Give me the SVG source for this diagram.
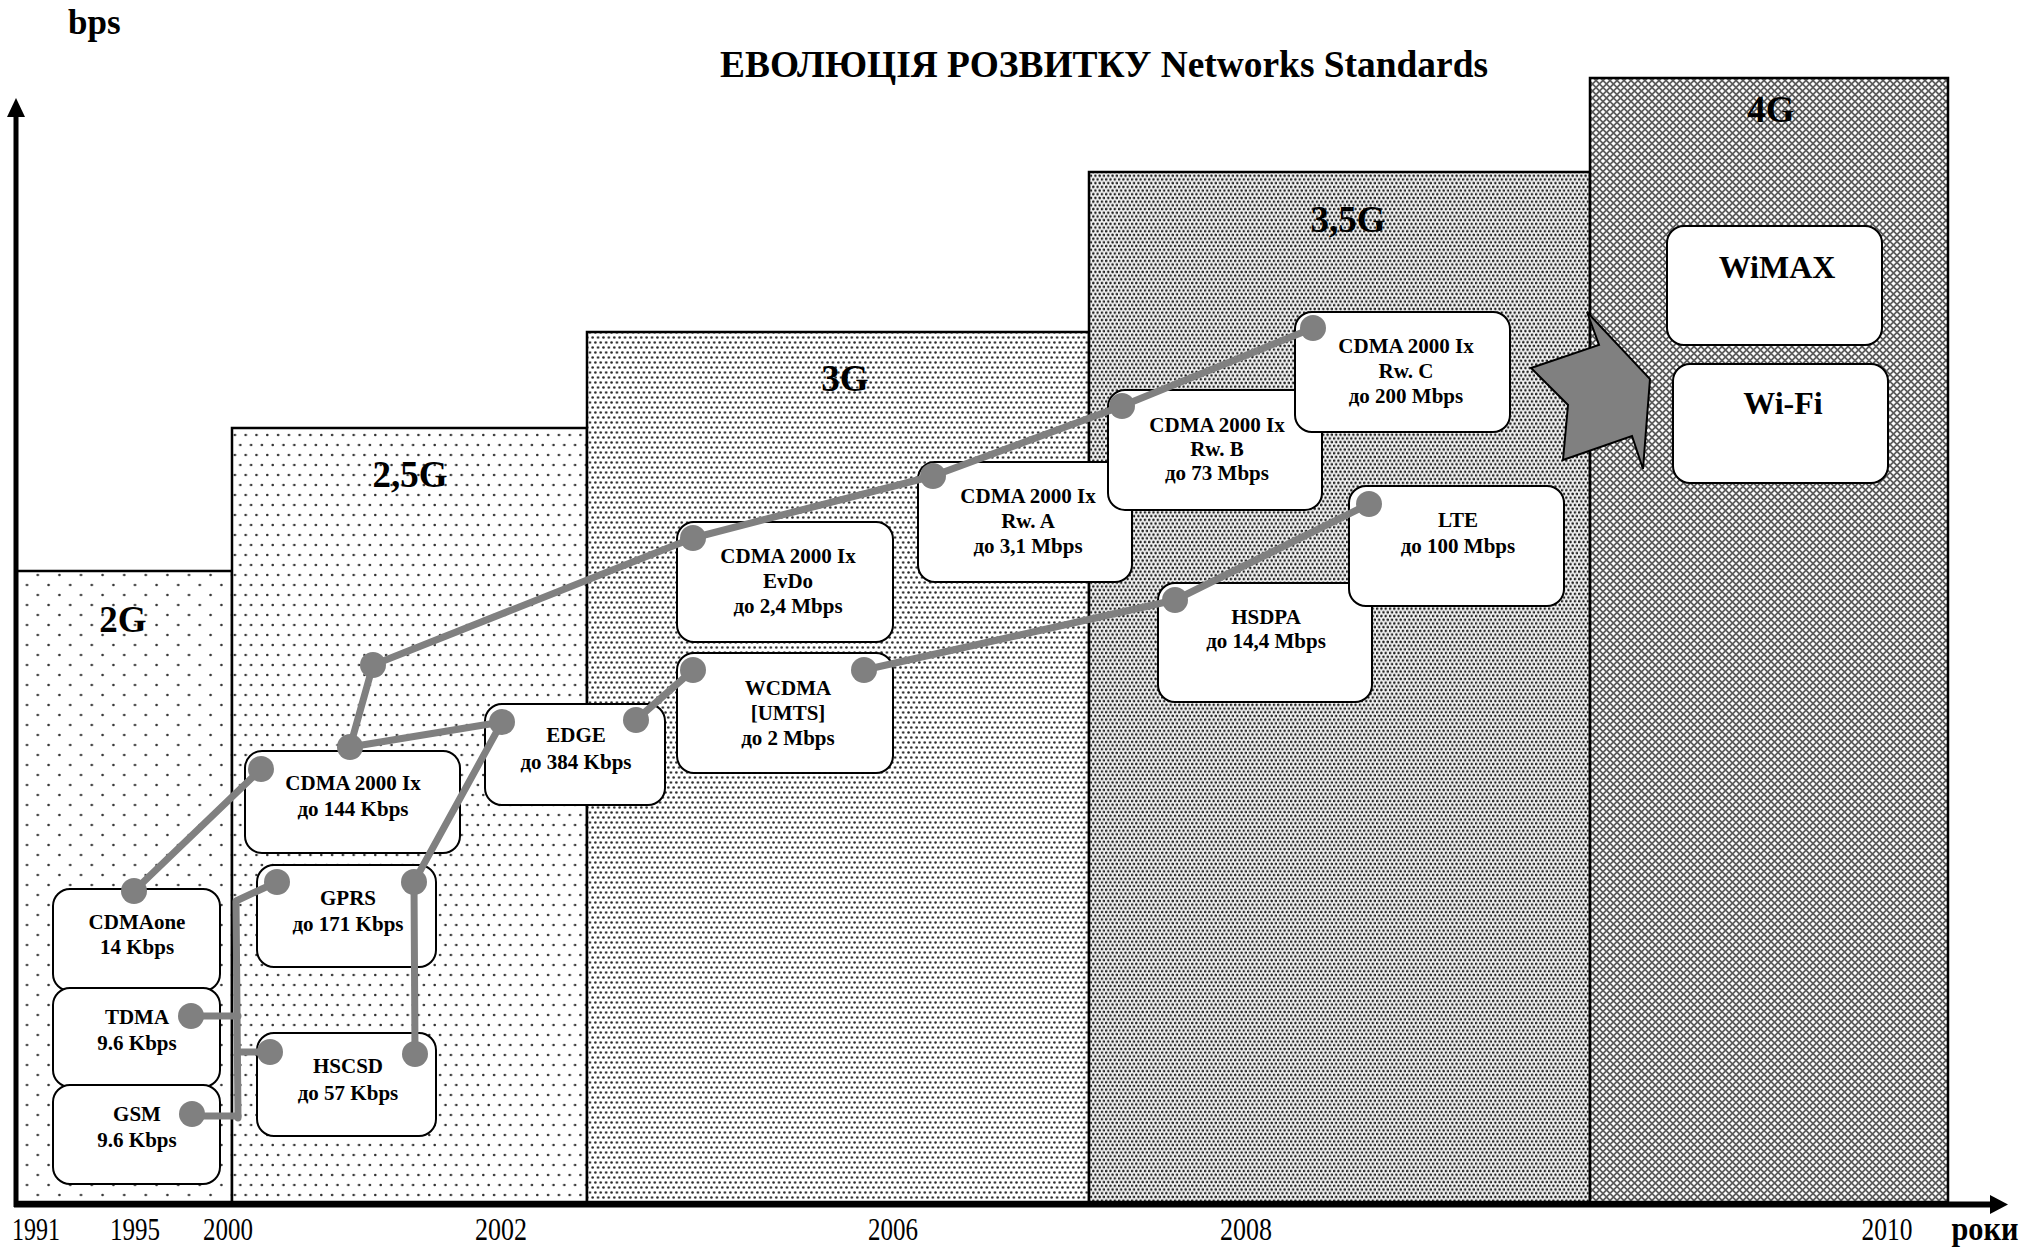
<svg xmlns="http://www.w3.org/2000/svg" width="2044" height="1247" viewBox="0 0 2044 1247">
<defs>
<style>
.t{font-family:"Liberation Serif","Times New Roman",serif;font-weight:bold;fill:#000}
.n{font-size:21px;text-anchor:middle}
.big{font-size:32px;text-anchor:middle}
.z{font-size:37px;text-anchor:middle}
.yr{font-family:"Liberation Serif","Times New Roman",serif;font-size:31px;fill:#000;text-anchor:middle}
.box{fill:#fff;stroke:#000;stroke-width:2}
.zone{stroke:#000;stroke-width:2.5}
.c{stroke:#808080;stroke-width:7;fill:none;stroke-linecap:round;stroke-linejoin:round}
.d{fill:#808080}
</style>
<pattern id="p2g" width="21.6" height="20" patternUnits="userSpaceOnUse">
<rect width="21.6" height="20" fill="#fff"/>
<circle cx="5.4" cy="5" r="1.3" fill="#333"/>
<circle cx="16.2" cy="15" r="1.3" fill="#333"/>
</pattern>
<pattern id="p25g" width="10.8" height="20" patternUnits="userSpaceOnUse">
<rect width="10.8" height="20" fill="#fff"/>
<circle cx="2.7" cy="5" r="1.3" fill="#333"/>
<circle cx="8.1" cy="15" r="1.3" fill="#333"/>
</pattern>
<pattern id="p3g" width="5.4" height="10" patternUnits="userSpaceOnUse">
<rect width="5.4" height="10" fill="#fff"/>
<circle cx="1.35" cy="2.5" r="1.3" fill="#2a2a2a"/>
<circle cx="4.05" cy="7.5" r="1.3" fill="#2a2a2a"/>
</pattern>
<pattern id="p35g" width="4.3" height="7.4" patternUnits="userSpaceOnUse">
<rect width="4.3" height="7.4" fill="#f4f4f4"/>
<circle cx="1.07" cy="1.85" r="1.3" fill="#222"/>
<circle cx="3.22" cy="5.55" r="1.3" fill="#222"/>
</pattern>
<pattern id="p4g" width="7" height="7" patternUnits="userSpaceOnUse">
<rect width="7" height="7" fill="#5a5a5a"/>
<polygon points="3.5,1.2 5.8,3.5 3.5,5.8 1.2,3.5" fill="#fff"/>
<polygon points="0,-2.3 2.3,0 0,2.3 -2.3,0" fill="#fff"/>
<polygon points="7,-2.3 9.3,0 7,2.3 4.7,0" fill="#fff"/>
<polygon points="0,4.7 2.3,7 0,9.3 -2.3,7" fill="#fff"/>
<polygon points="7,4.7 9.3,7 7,9.3 4.7,7" fill="#fff"/>
</pattern>
</defs>
<rect width="2044" height="1247" fill="#fff"/>

<g id="zone-2g"><rect class="zone" x="16" y="571" width="216" height="631" fill="url(#p2g)"/><text class="t z" x="123" y="632">2G</text></g>
<g id="zone-25g"><rect class="zone" x="232" y="428" width="355" height="774" fill="url(#p25g)"/><text class="t z" x="410" y="487">2,5G</text></g>
<g id="zone-3g"><rect class="zone" x="587" y="332" width="502" height="870" fill="url(#p3g)"/><text class="t z" x="845" y="391">3G</text></g>
<g id="zone-35g"><rect class="zone" x="1089" y="172" width="501" height="1030" fill="url(#p35g)" stroke-width="2"/><text class="t z" x="1348" y="232">3,5G</text></g>
<g id="zone-4g"><rect class="zone" x="1590" y="78" width="358" height="1124" fill="url(#p4g)" stroke-width="2"/><text class="t z" x="1771" y="122">4G</text></g>

<g id="axes">
<line x1="16" y1="1207" x2="16" y2="114" stroke="#000" stroke-width="5"/>
<polygon points="16,98 7,117 25,117" fill="#000"/>
<line x1="14" y1="1204.5" x2="1992" y2="1204.5" stroke="#000" stroke-width="6"/>
<polygon points="2008,1204.5 1990,1195 1990,1214" fill="#000"/>
</g>

<text class="t" x="68" y="34" font-size="35">bps</text>
<text class="t" x="1104" y="77" font-size="38" text-anchor="middle" textLength="768" lengthAdjust="spacingAndGlyphs">ЕВОЛЮЦІЯ РОЗВИТКУ Networks Standards</text>

<g id="years">
<text class="yr" x="36" y="1240" textLength="48" lengthAdjust="spacingAndGlyphs">1991</text>
<text class="yr" x="135" y="1240" textLength="50" lengthAdjust="spacingAndGlyphs">1995</text>
<text class="yr" x="228" y="1240" textLength="50" lengthAdjust="spacingAndGlyphs">2000</text>
<text class="yr" x="501" y="1240" textLength="52" lengthAdjust="spacingAndGlyphs">2002</text>
<text class="yr" x="893" y="1240" textLength="50" lengthAdjust="spacingAndGlyphs">2006</text>
<text class="yr" x="1246" y="1240" textLength="52" lengthAdjust="spacingAndGlyphs">2008</text>
<text class="yr" x="1887" y="1240" textLength="51" lengthAdjust="spacingAndGlyphs">2010</text>
<text class="t" x="1985" y="1240" font-size="34" text-anchor="middle" textLength="67" lengthAdjust="spacingAndGlyphs">роки</text>
</g>

<g id="n-cdmaone"><rect class="box" x="53" y="889" width="167" height="102" rx="17"/><text class="t n" x="137" y="929">CDMAone</text><text class="t n" x="137" y="954">14 Kbps</text></g>
<g id="n-tdma"><rect class="box" x="53" y="988" width="167" height="99" rx="17"/><text class="t n" x="137" y="1024">TDMA</text><text class="t n" x="137" y="1050">9.6 Kbps</text></g>
<g id="n-gsm"><rect class="box" x="53" y="1085" width="167" height="99" rx="17"/><text class="t n" x="137" y="1121">GSM</text><text class="t n" x="137" y="1147">9.6 Kbps</text></g>
<g id="n-cdma144"><rect class="box" x="245" y="751" width="215" height="102" rx="17"/><text class="t n" x="353" y="790">CDMA 2000 Ix</text><text class="t n" x="353" y="816">до 144 Kbps</text></g>
<g id="n-gprs"><rect class="box" x="257" y="865" width="179" height="102" rx="17"/><text class="t n" x="348" y="905">GPRS</text><text class="t n" x="348" y="931">до 171 Kbps</text></g>
<g id="n-hscsd"><rect class="box" x="257" y="1033" width="179" height="103" rx="17"/><text class="t n" x="348" y="1073">HSCSD</text><text class="t n" x="348" y="1100">до 57 Kbps</text></g>
<g id="n-edge"><rect class="box" x="485" y="704" width="180" height="101" rx="17"/><text class="t n" x="576" y="742">EDGE</text><text class="t n" x="576" y="769">до 384 Kbps</text></g>
<g id="n-evdo"><rect class="box" x="677" y="522" width="216" height="120" rx="17"/><text class="t n" x="788" y="563">CDMA 2000 Ix</text><text class="t n" x="788" y="588">EvDo</text><text class="t n" x="788" y="613">до 2,4 Mbps</text></g>
<g id="n-wcdma"><rect class="box" x="677" y="653" width="216" height="120" rx="17"/><text class="t n" x="788" y="695">WCDMA</text><text class="t n" x="788" y="720">[UMTS]</text><text class="t n" x="788" y="745">до 2 Mbps</text></g>
<g id="n-rwa"><rect class="box" x="918" y="462" width="214" height="120" rx="17"/><text class="t n" x="1028" y="503">CDMA 2000 Ix</text><text class="t n" x="1028" y="528">Rw. A</text><text class="t n" x="1028" y="553">до 3,1 Mbps</text></g>
<g id="n-rwb"><rect class="box" x="1108" y="390" width="214" height="120" rx="17"/><text class="t n" x="1217" y="432">CDMA 2000 Ix</text><text class="t n" x="1217" y="456">Rw. B</text><text class="t n" x="1217" y="480">до 73 Mbps</text></g>
<g id="n-rwc"><rect class="box" x="1295" y="312" width="215" height="120" rx="17"/><text class="t n" x="1406" y="353">CDMA 2000 Ix</text><text class="t n" x="1406" y="378">Rw. C</text><text class="t n" x="1406" y="403">до 200 Mbps</text></g>
<g id="n-hsdpa"><rect class="box" x="1158" y="583" width="214" height="119" rx="17"/><text class="t n" x="1266" y="624">HSDPA</text><text class="t n" x="1266" y="648">до 14,4 Mbps</text></g>
<g id="n-lte"><rect class="box" x="1349" y="486" width="215" height="120" rx="17"/><text class="t n" x="1458" y="527">LTE</text><text class="t n" x="1458" y="553">до 100 Mbps</text></g>
<g id="n-wimax"><rect class="box" x="1667" y="226" width="215" height="119" rx="17"/><text class="t big" x="1777" y="278">WiMAX</text></g>
<g id="n-wifi"><rect class="box" x="1673" y="364" width="215" height="119" rx="17"/><text class="t big" x="1783" y="414">Wi-Fi</text></g>

<g id="transition-arrow"><polygon points="1531,368 1599,345 1587,312 1650,379 1643,469 1632,436 1563,460 1568,405" fill="#808080" stroke="#000" stroke-width="2" stroke-linejoin="miter"/></g>

<g id="connectors">
<path class="c" d="M134,891 L261,769"/>
<path class="c" d="M350,747 L373,665 L693,538 L933,476 L1122,406 L1313,328"/>
<path class="c" d="M350,747 L502,722"/>
<path class="c" d="M414,882 L502,722"/>
<path class="c" d="M414,882 L415,1054"/>
<path class="c" d="M636,720 L693,670"/>
<path class="c" d="M864,670 L1175,600 L1369,504"/>
<path class="c" d="M277,882 L236,901 L238,1118" stroke-linecap="butt"/>
<path class="c" d="M191,1016 H238 M238,1052 H270 M192,1116 H238" stroke-linecap="butt"/>
<circle class="d" cx="134" cy="891" r="13"/>
<circle class="d" cx="261" cy="769" r="13"/>
<circle class="d" cx="350" cy="747" r="13"/>
<circle class="d" cx="373" cy="665" r="13"/>
<circle class="d" cx="693" cy="538" r="13"/>
<circle class="d" cx="933" cy="476" r="13"/>
<circle class="d" cx="1122" cy="406" r="13"/>
<circle class="d" cx="1313" cy="328" r="13"/>
<circle class="d" cx="502" cy="722" r="13"/>
<circle class="d" cx="414" cy="882" r="13"/>
<circle class="d" cx="415" cy="1054" r="13"/>
<circle class="d" cx="636" cy="720" r="13"/>
<circle class="d" cx="693" cy="670" r="13"/>
<circle class="d" cx="864" cy="670" r="13"/>
<circle class="d" cx="1175" cy="600" r="13"/>
<circle class="d" cx="1369" cy="504" r="13"/>
<circle class="d" cx="277" cy="882" r="13"/>
<circle class="d" cx="191" cy="1016" r="13"/>
<circle class="d" cx="270" cy="1052" r="13"/>
<circle class="d" cx="192" cy="1114" r="13"/>
</g>
</svg>
